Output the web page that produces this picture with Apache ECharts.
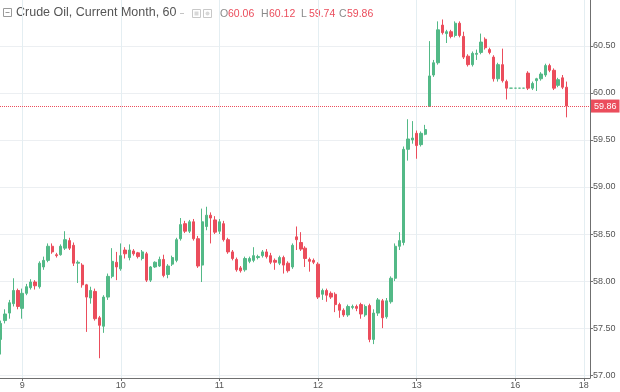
<!DOCTYPE html>
<html><head><meta charset="utf-8">
<script src="https://cdn.jsdelivr.net/npm/echarts@6/dist/echarts.min.js"></script>
<style>html,body{margin:0;padding:0;background:#fff}#c{width:620px;height:392px}</style>
</head><body><div id="c"></div>
<script>
const opens = [
57.38,57.58,57.66,57.76,57.90,57.71,57.87,57.93,57.99,57.94,
58.15,58.22,58.37,58.28,58.28,58.35,58.43,58.38,58.19,58.17,
57.96,57.82,57.89,57.61,57.52,57.83,58.05,58.20,58.13,58.33,
58.25,58.32,58.30,58.24,58.29,58.01,58.15,58.16,58.23,58.07,
58.18,58.22,58.45,58.61,58.53,58.63,58.45,58.17,58.58,58.70,
58.65,58.53,58.61,58.44,58.31,58.23,58.14,58.12,58.21,58.22,
58.25,58.27,58.31,58.27,58.22,58.19,58.25,58.19,58.15,58.47,
58.41,58.35,58.23,58.22,58.18,57.86,57.90,57.87,57.86,57.75,
57.69,57.64,57.72,57.73,57.75,57.64,57.74,57.38,57.66,57.79,
57.62,57.78,58.03,58.37,58.41,59.40,59.50,59.57,59.45,59.56,
59.86,60.19,60.32,60.72,60.63,60.65,60.61,60.74,60.60,60.39,
60.30,60.41,60.43,60.57,60.46,60.38,60.15,60.30,60.12,60.05,
60.05,60.05,60.05,60.21,60.05,60.13,60.15,60.19,60.29,60.24,
60.08,60.16,60.06];
const closes = [
57.55,57.65,57.77,57.90,57.73,57.87,57.94,57.99,57.95,58.19,
58.22,58.37,58.31,58.27,58.37,58.44,58.35,58.19,58.20,57.96,
57.83,57.90,57.60,57.53,57.83,58.05,58.21,58.15,58.27,58.29,
58.33,58.29,58.26,58.31,58.01,58.15,58.20,58.23,58.06,58.16,
58.25,58.44,58.60,58.53,58.63,58.45,58.16,58.63,58.70,58.67,
58.52,58.63,58.44,58.31,58.24,58.12,58.11,58.24,58.24,58.27,
58.26,58.31,58.26,58.20,58.20,58.25,58.17,58.11,58.38,58.44,
58.34,58.24,58.21,58.20,57.83,57.90,57.85,57.83,57.75,57.69,
57.64,57.73,57.73,57.71,57.65,57.73,57.38,57.66,57.80,57.61,
57.79,58.03,58.37,58.43,59.40,59.51,59.52,59.44,59.57,59.61,
60.18,60.32,60.67,60.64,60.65,60.60,60.74,60.61,60.38,60.30,
60.42,60.42,60.54,60.48,60.43,60.15,60.30,60.13,60.05,60.05,
60.05,60.05,60.05,60.05,60.10,60.15,60.20,60.29,60.24,60.05,
60.14,60.06,59.86];
const lows = [
57.22,57.55,57.60,57.73,57.70,57.60,57.85,57.91,57.91,57.92,
58.12,58.20,58.29,58.25,58.27,58.33,58.33,58.16,57.98,57.93,
57.46,57.76,57.58,57.18,57.45,57.80,58.03,58.01,58.11,58.24,
58.22,58.27,58.24,58.22,57.99,57.99,58.14,58.15,58.04,58.03,
58.16,58.20,58.43,58.51,58.51,58.43,58.14,57.99,58.54,58.40,
58.50,58.50,58.42,58.29,58.22,58.10,58.09,58.10,58.19,58.20,
58.23,58.25,58.24,58.18,58.12,58.17,58.08,58.09,58.13,58.33,
58.32,58.15,58.10,58.18,57.81,57.80,57.78,57.81,57.67,57.61,
57.62,57.62,57.70,57.68,57.60,57.62,57.35,57.33,57.63,57.50,
57.60,57.76,58.00,58.33,58.38,59.28,59.46,59.30,59.43,59.55,
59.85,60.17,60.30,60.62,60.53,60.58,60.59,60.59,60.36,60.28,
60.28,60.35,60.41,60.46,60.41,60.12,60.12,60.11,59.93,60.05,
60.05,60.05,60.05,60.03,60.03,60.02,60.13,60.17,60.22,60.03,
60.06,60.04,59.74];
const highs = [
57.58,57.70,57.80,58.03,57.92,57.92,57.97,58.02,58.01,58.21,
58.26,58.40,58.40,58.30,58.39,58.53,58.46,58.41,58.22,58.19,
57.97,57.94,57.92,57.63,57.85,58.08,58.35,58.31,58.40,58.36,
58.39,58.34,58.31,58.33,58.31,58.16,58.21,58.26,58.28,58.18,
58.27,58.46,58.67,58.64,58.65,58.66,58.48,58.77,58.79,58.73,
58.69,58.66,58.64,58.46,58.33,58.25,58.16,58.26,58.26,58.36,
58.28,58.33,58.34,58.30,58.24,58.27,58.27,58.21,58.40,58.58,
58.52,58.37,58.25,58.24,58.20,57.92,57.92,57.89,57.88,57.77,
57.71,57.75,57.75,57.75,57.77,57.75,57.76,57.70,57.82,57.81,
57.82,58.05,58.40,58.52,59.43,59.72,59.70,59.60,59.59,59.66,
60.55,60.35,60.76,60.78,60.67,60.67,60.76,60.76,60.65,60.41,
60.44,60.46,60.63,60.59,60.48,60.40,60.32,60.47,60.14,60.05,
60.05,60.05,60.05,60.23,60.12,60.16,60.22,60.31,60.31,60.26,
60.16,60.19,60.12];
const dayTickIdx = [5, 28, 51, 74, 97, 120, 136];
const dayTickText = ['9', '10', '11', '12', '13', '16', '18'];
const priceTicks = [57.0, 57.5, 58.0, 58.5, 59.0, 59.5, 60.0, 60.5];
const lastPrice = 59.86;
const titleText = 'Crude Oil, Current Month, 60';
const ohlcLetters = ['O', 'H', 'L', 'C'];
const ohlcValues = ['60.06', '60.12', '59.74', '59.86'];

const UP = '#53b987', DOWN = '#eb4d5c';
const candles = opens.map((o, i) => [i, o, closes[i], lows[i], highs[i]]);

const FONT = 'Liberation Sans, Arial, sans-serif';
const graphics = [
  {type:'rect', shape:{x:3.5,y:8.5,width:8,height:8}, style:{fill:'none',stroke:'#9a9a9a',lineWidth:1}},
  {type:'line', shape:{x1:5.5,y1:12.5,x2:9.5,y2:12.5}, style:{stroke:'#9a9a9a',lineWidth:1}},
  {type:'text', x:16, y:13, style:{text:titleText, font:'12.5px '+FONT, fill:'#555', textVerticalAlign:'middle'}},
  {type:'line', shape:{x1:180,y1:13.5,x2:184,y2:13.5}, style:{stroke:'#c4c4c4',lineWidth:1}},
  {type:'rect', shape:{x:192.5,y:9.5,width:8,height:8}, style:{fill:'none',stroke:'#c8c8c8',lineWidth:1}},
  {type:'rect', shape:{x:194.5,y:11.5,width:4,height:4}, style:{fill:'#d8d8d8'}},
  {type:'rect', shape:{x:203.5,y:9.5,width:8,height:8}, style:{fill:'none',stroke:'#c8c8c8',lineWidth:1}},
  {type:'circle', shape:{cx:207.5,cy:13.5,r:2}, style:{fill:'#d8d8d8'}},
  {type:'rect', shape:{x:591,y:378.5,width:29,height:14}, style:{fill:'#fff'}, z:100}
];
const ohlcX = [220, 261, 301, 339];
ohlcLetters.forEach((l, k) => {
  graphics.push({type:'text', x:ohlcX[k], y:14, style:{text:l, font:'10.5px '+FONT, fill:'#8a8a8a', textVerticalAlign:'middle'}});
  graphics.push({type:'text', x:ohlcX[k]+8, y:14, style:{text:ohlcValues[k], font:'10.5px '+FONT, fill:DOWN, textVerticalAlign:'middle'}});
});

const chart = echarts.init(document.getElementById('c'), null, {renderer:'canvas'});
chart.setOption({
  animation:false,
  backgroundColor:'#fff',
  grid:{left:0, right:30, top:0, bottom:14, containLabel:false},
  xAxis:{
    type:'value', min:-0.163, max:137.43,
    axisLine:{show:true, onZero:false, lineStyle:{color:'#6f6f6f'}},
    axisTick:{show:true, customValues:dayTickIdx, length:3, lineStyle:{color:'#6f6f6f'}},
    axisLabel:{customValues:dayTickIdx, formatter:v => dayTickText[dayTickIdx.indexOf(v)], fontSize:9, color:'#555', margin:3, fontFamily:FONT},
    splitLine:{show:true, lineStyle:{color:'#e4eef2', width:1}}
  },
  yAxis:{
    type:'value', position:'right', min:56.97, max:60.987, scale:true,
    axisLine:{show:true, onZero:false, lineStyle:{color:'#6f6f6f'}},
    axisTick:{show:true, customValues:priceTicks, length:3, lineStyle:{color:'#6f6f6f'}},
    axisLabel:{customValues:priceTicks, formatter:v => v.toFixed(2), fontSize:9, color:'#555', margin:3, fontFamily:FONT},
    splitLine:{show:true, lineStyle:{color:'#eceff2', width:1}}
  },
  graphic:graphics,
  series:[{
    type:'candlestick',
    data:candles,
    encode:{x:0, y:[1,2,3,4]},
    barWidth:2.8,
    itemStyle:{color:UP, color0:DOWN, borderColor:UP, borderColor0:DOWN, borderWidth:1},
    markLine:{
      silent:true, symbol:'none',
      lineStyle:{color:DOWN, type:'dotted', width:1},
      label:{show:true, position:'end', formatter:lastPrice.toFixed(2), color:'#fff', backgroundColor:DOWN, padding:[2,3,2,3], fontSize:9, distance:1, fontFamily:FONT},
      data:[{yAxis:lastPrice}]
    }
  }]
});
</script></body></html>
